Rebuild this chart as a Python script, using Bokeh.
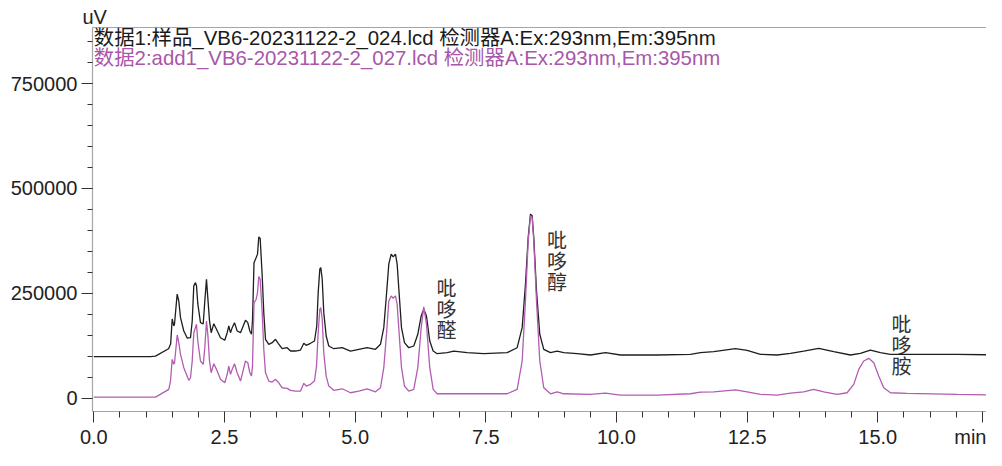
from bokeh.plotting import figure
from bokeh.models import Range1d, LinearAxis, SingleIntervalTicker, FixedTicker, PrintfTickFormatter, Label, Title
from bokeh.core.properties import value
from bokeh.embed import file_html
from bokeh.resources import INLINE

# ---------------- data ----------------
time_1 = [0.0, 1.085, 1.18, 1.43, 1.47, 1.50, 1.53, 1.544, 1.595, 1.626, 1.659, 1.722, 1.787, 1.85,
          1.883, 1.913, 1.945, 1.965, 1.99, 2.041, 2.093, 2.124, 2.156, 2.181, 2.214, 2.246, 2.296,
          2.347, 2.424, 2.506, 2.552, 2.583, 2.615, 2.648, 2.692, 2.743, 2.807, 2.902, 2.946, 2.985,
          3.017, 3.036, 3.065, 3.107, 3.132, 3.157, 3.183, 3.222, 3.252, 3.285, 3.348, 3.413, 3.476,
          3.528, 3.604, 3.70, 3.763, 3.859, 3.955, 4.018, 4.064, 4.146, 4.222, 4.266, 4.293, 4.324,
          4.343, 4.37, 4.40, 4.446, 4.496, 4.592, 4.752, 4.911, 5.07, 5.23, 5.389, 5.485, 5.548,
          5.60, 5.644, 5.69, 5.728, 5.772, 5.804, 5.843, 5.887, 5.944, 6.026, 6.122, 6.199, 6.264,
          6.313, 6.365, 6.428, 6.493, 6.57, 6.761, 6.887, 7.144, 7.461, 7.909, 8.10, 8.196, 8.259,
          8.311, 8.355, 8.387, 8.418, 8.47, 8.533, 8.609, 8.737, 8.865, 8.992, 9.248, 9.503, 9.79,
          10.077, 10.78, 11.416, 11.608, 11.862, 12.277, 12.50, 12.755, 13.074, 13.329, 13.583,
          13.87, 14.157, 14.476, 14.667, 14.859, 15.05, 15.24, 15.879, 16.518, 17.385]
signal_1 = [99000, 99000, 100000, 117700, 129000, 188700, 172000, 176700, 248000, 231600, 191800,
            160000, 143300, 144000, 183900, 267500, 275300, 267500, 224500, 179800, 176700, 231600,
            283500, 239500, 183900, 155900, 177400, 164100, 144000, 137800, 155900, 171900, 155900,
            167900, 179800, 160000, 155900, 185500, 179800, 160000, 152100, 183900, 322400, 335000,
            343200, 384500, 380900, 291300, 203700, 140200, 128200, 132100, 140200, 130600, 117700,
            120100, 112200, 112200, 114600, 130600, 125800, 130600, 136100, 171900, 251500, 307300,
            311200, 283500, 203700, 148100, 124200, 117700, 120100, 112200, 116300, 120100, 116300,
            128200, 167900, 247600, 319300, 343200, 336700, 343200, 319300, 247600, 167900, 132100,
            120100, 124200, 152100, 195800, 211800, 195800, 136100, 112200, 105800, 108200, 112200,
            108200, 105800, 108200, 120100, 167900, 271500, 382800, 438700, 434600, 382800, 255500,
            152100, 116300, 108200, 112200, 108200, 105800, 102700, 108200, 102700, 102700, 104400,
            108200, 110600, 117700, 113900, 104400, 102700, 106700, 112200, 118700, 110600, 102700,
            106700, 114600, 108200, 104400, 104400, 104400, 102700]

time_2 = [0.0, 1.18, 1.435, 1.467, 1.50, 1.531, 1.544, 1.596, 1.626, 1.659, 1.722, 1.817, 1.85,
          1.883, 1.913, 1.965, 1.99, 2.041, 2.093, 2.124, 2.156, 2.181, 2.214, 2.246, 2.296, 2.347,
          2.424, 2.506, 2.552, 2.583, 2.615, 2.648, 2.692, 2.743, 2.807, 2.902, 2.946, 2.985, 3.017,
          3.036, 3.065, 3.107, 3.132, 3.157, 3.183, 3.222, 3.252, 3.285, 3.348, 3.413, 3.476, 3.539,
          3.604, 3.70, 3.763, 3.859, 3.955, 4.018, 4.064, 4.146, 4.222, 4.261, 4.293, 4.324, 4.343,
          4.37, 4.40, 4.446, 4.496, 4.592, 4.752, 4.911, 5.07, 5.23, 5.389, 5.485, 5.548, 5.60,
          5.644, 5.69, 5.728, 5.772, 5.804, 5.843, 5.887, 5.944, 6.026, 6.122, 6.199, 6.264, 6.313,
          6.365, 6.428, 6.493, 6.57, 7.144, 7.909, 8.10, 8.196, 8.259, 8.311, 8.355, 8.387, 8.418,
          8.47, 8.533, 8.609, 8.737, 8.865, 8.992, 9.503, 9.79, 10.077, 10.78, 11.416, 11.608,
          11.862, 12.277, 12.50, 12.755, 13.074, 13.329, 13.583, 13.774, 13.966, 14.222, 14.413,
          14.54, 14.636, 14.731, 14.827, 14.923, 15.018, 15.114, 15.242, 15.562, 16.518, 17.385]
signal_2 = [2400, 2400, 20800, 40600, 92400, 80500, 83600, 150400, 132100, 104400, 72400, 42300,
            48500, 88400, 155900, 176000, 136100, 88400, 80500, 120100, 183900, 152100, 88400, 60400,
            81900, 68500, 44700, 36500, 56600, 76400, 56600, 68500, 81900, 60400, 40600, 88400, 84300,
            60400, 52500, 76400, 226900, 235700, 251500, 289700, 283500, 203700, 116300, 60400, 40600,
            38200, 44700, 36500, 24600, 23200, 18400, 16700, 16700, 35100, 28700, 32700, 40600, 76400,
            155900, 211800, 215600, 187900, 108200, 52500, 28700, 18400, 22200, 12700, 16700, 22200,
            15000, 24600, 72400, 152100, 231600, 243600, 238100, 243600, 223800, 152100, 72400, 28700,
            16700, 20800, 72400, 167900, 217300, 176000, 72400, 20800, 10300, 10300, 10300, 20800,
            88400, 231600, 374900, 434600, 430600, 374900, 231600, 88400, 24600, 10300, 15000, 10300,
            8800, 11900, 7200, 7200, 10300, 14300, 15000, 19800, 15000, 8800, 7200, 11900, 15000,
            20800, 15000, 8800, 12700, 32700, 68500, 88400, 94800, 84300, 52500, 24600, 12700, 11200,
            8800, 7200]

legend_texts = ["数据1:样品_VB6-20231122-2_024.lcd 检测器A:Ex:293nm,Em:395nm",
                "数据2:add1_VB6-20231122-2_027.lcd 检测器A:Ex:293nm,Em:395nm"]
peak_names = ["吡哆醛", "吡哆醇", "吡哆胺"]
x_tick_values = [0.0, 2.5, 5.0, 7.5, 10.0, 12.5, 15.0]
x_tick_labels = ["0.0", "2.5", "5.0", "7.5", "10.0", "12.5", "15.0"]
y_unit = "uV"
x_unit = "min"

# ---------------- styling / layout ----------------
BLACK = "#1e1e1e"
PINK = "#b25cb2"
PINK_TXT = "#a857aa"
GREY = "#a6a6a6"
LAT = "Liberation Sans, Noto Sans CJK SC"
CJK = "Noto Sans CJK SC"

X_END = 17.08
UNIT_POS = 17.0   # where the x unit is written, at the right end of the axis
p = figure(width=986, height=450, output_backend="svg", toolbar_location=None,
           x_range=Range1d(-0.025, X_END), y_range=Range1d(-32000, 883600),
           min_border_left=92, min_border_right=0, min_border_top=27, min_border_bottom=31,
           x_axis_type=None, y_axis_type=None)
p.grid.visible = False
p.outline_line_color = None
p.background_fill_color = "white"
p.border_fill_color = "white"

# y unit shown as a title just above the left axis
p.title = Title(text=y_unit, align="left", offset=-10, standoff=0, text_font=LAT,
                text_font_size="20px", text_font_style="normal", text_color="#222222")

minor_x = [i * 0.5 for i in range(35) if (i * 0.5) not in x_tick_values and i * 0.5 != UNIT_POS]
overrides = {v: s for v, s in zip(x_tick_values, x_tick_labels)}
overrides[UNIT_POS] = x_unit
xaxis = LinearAxis(ticker=FixedTicker(ticks=x_tick_values + [UNIT_POS], minor_ticks=minor_x),
                   major_label_overrides=overrides)
yaxis = LinearAxis(ticker=SingleIntervalTicker(interval=250000, num_minor_ticks=5),
                   formatter=PrintfTickFormatter(format="%d"))
for ax in (xaxis, yaxis):
    ax.axis_line_color = GREY
    ax.axis_line_width = 1.2
    ax.major_tick_line_color = "#333333"
    ax.minor_tick_line_color = "#333333"
    ax.major_tick_in = 0
    ax.minor_tick_in = 0
    ax.major_tick_out = 11
    ax.major_label_text_font = "Liberation Sans"
    ax.major_label_text_font_size = "20px"
    ax.major_label_text_color = "#222222"
xaxis.minor_tick_out = 6
xaxis.major_label_standoff = 3
yaxis.minor_tick_out = 5
yaxis.major_label_standoff = 4
p.add_layout(xaxis, "below")
p.add_layout(yaxis, "left")

top_axis = LinearAxis(ticker=FixedTicker(ticks=[]), axis_line_color=GREY, axis_line_width=1.2,
                      major_tick_out=0, minor_tick_out=0, major_tick_in=0, minor_tick_in=0,
                      major_label_text_font_size="0px", major_label_standoff=0)
p.add_layout(top_axis, "above")

p.line(time_1, signal_1, line_color=BLACK, line_width=1.3)
p.line(time_2, signal_2, line_color=PINK, line_width=1.3)

# legend-like header lines
p.add_layout(Label(x=0.0, y=859700, text=legend_texts[0], text_font=LAT, text_font_size="20.4px",
                   text_color="#1a1a1a", text_baseline="middle", text_align="left"))
p.add_layout(Label(x=0.0, y=810700, text=legend_texts[1], text_font=LAT, text_font_size="20.4px",
                   text_color=PINK_TXT, text_baseline="middle", text_align="left"))

# peak names, written vertically
name_x = [6.748, 8.862, 15.452]
name_y = [263900, 377300, 177900]
pitch = 50100
cx, cy, ch = [], [], []
for nm, x0, y0 in zip(peak_names, name_x, name_y):
    for i, c in enumerate(nm):
        cx.append(x0)
        cy.append(y0 - i * pitch)
        ch.append(c)
p.text(x=cx, y=cy, text=ch, text_font=value(CJK), text_font_size="20px", text_color="#333333",
       text_align="center", text_baseline="middle")

open("out.html", "w").write(file_html(p, INLINE))
